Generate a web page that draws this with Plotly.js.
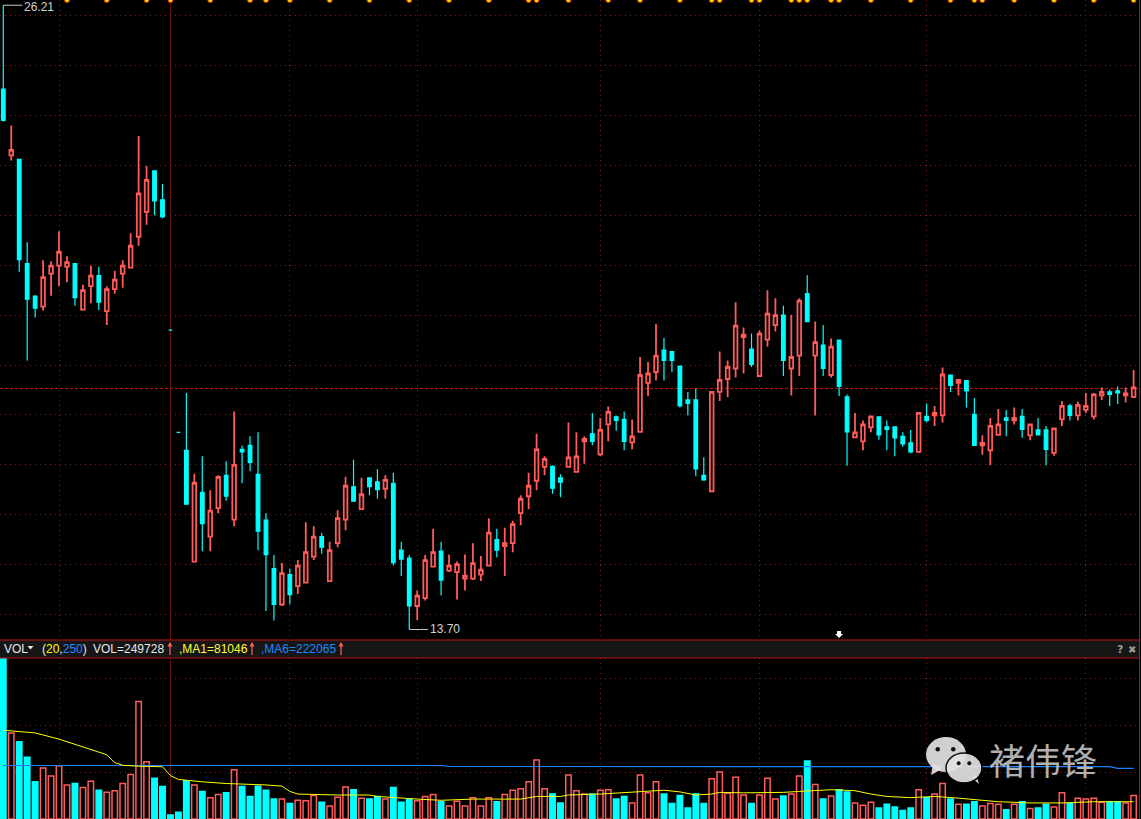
<!DOCTYPE html>
<html>
<head>
<meta charset="utf-8">
<script src="https://cdn.plot.ly/plotly-3.0.1.min.js"></script>
<style>html,body{margin:0;padding:0;background:#000;}#chart{width:1141px;height:819px;}</style>
</head>
<body>
<div id="chart"></div>
<script>
// ---------------- data ----------------
const openP = [24.53,23.20,23.12,21.03,20.38,20.17,20.83,20.99,20.97,21.03,20.11,20.58,20.79,20.08,20.52,20.83,20.95,21.57,22.07,22.89,
22.31,19.70,17.65,17.29,15.06,16.45,15.56,16.13,16.79,15.90,17.31,17.39,16.81,15.89,14.92,14.20,14.80,14.57,14.64,15.16,
15.56,14.67,15.43,15.90,16.56,16.11,16.74,16.66,16.52,16.63,15.29,15.13,14.17,14.33,14.96,15.27,14.88,14.85,14.72,14.72,
14.80,14.98,15.50,15.37,15.43,16.03,16.37,16.68,16.96,16.97,16.74,16.96,16.86,17.47,17.62,17.21,17.81,17.96,17.91,17.45,
17.66,18.64,18.86,19.30,19.27,18.98,18.30,18.30,16.79,16.47,18.46,18.72,18.93,19.56,19.32,18.78,19.51,19.80,20.00,18.93,
19.19,20.43,19.19,19.40,18.80,19.50,18.36,17.55,17.47,17.75,17.96,17.76,17.76,17.57,17.44,17.26,17.97,17.99,17.99,18.80,
18.64,18.69,18.01,17.39,17.29,17.60,17.94,17.89,17.97,17.59,17.70,17.70,17.24,17.91,18.18,17.99,18.10,17.97,18.39,18.46,
18.48,18.39,18.36];
const highP = [26.21,23.80,23.12,21.46,20.40,21.10,21.08,21.68,21.18,21.03,20.61,20.99,20.97,20.58,20.89,21.10,21.64,23.59,22.99,22.89,
22.63,19.70,17.65,18.44,16.82,17.17,16.49,16.79,17.07,18.07,17.38,17.57,17.65,16.03,15.19,15.03,14.92,15.09,15.85,15.77,
15.64,15.46,16.09,16.76,17.10,16.74,16.74,16.91,16.79,16.84,15.46,15.19,14.48,15.19,15.72,15.46,15.20,15.06,15.20,15.43,
15.17,15.93,15.72,15.74,15.88,16.39,16.84,17.62,17.17,16.99,16.81,17.85,17.65,17.57,18.04,17.94,18.17,17.99,18.07,17.91,
19.16,19.06,19.82,19.54,19.27,18.98,18.46,18.53,17.15,18.46,19.27,19.09,20.26,19.75,19.63,19.69,20.50,20.34,20.19,20.00,
20.34,20.80,19.87,19.80,19.53,19.50,18.41,18.04,17.89,17.97,17.96,17.89,17.76,17.65,17.70,18.04,18.23,18.18,18.95,18.80,
18.70,18.69,18.34,17.59,17.94,18.12,18.10,18.15,18.12,17.81,17.94,17.78,17.75,18.28,18.22,18.27,18.44,18.44,18.55,18.51,
18.57,18.55,18.90];
const lowP = [23.88,23.10,20.87,19.09,19.95,20.09,20.39,20.58,20.66,20.19,20.11,20.24,20.10,19.80,20.43,20.55,20.95,21.39,21.81,22.00,
21.94,19.70,17.65,16.21,15.06,15.27,15.27,16.03,16.28,15.77,16.63,16.87,15.29,14.07,13.88,14.17,14.20,14.41,14.64,15.09,
15.22,14.67,15.35,15.69,16.27,16.11,16.39,16.32,16.32,14.98,14.77,13.70,13.89,14.28,14.96,14.38,14.85,14.30,14.48,14.69,
14.67,14.98,15.14,14.77,15.25,15.79,16.11,16.49,16.79,16.42,16.35,16.96,16.86,17.02,17.39,17.17,17.47,17.68,17.29,17.31,
17.66,18.38,18.69,18.69,18.86,18.15,17.99,16.77,16.68,16.47,18.28,18.36,18.75,18.83,18.96,18.78,19.37,19.67,18.78,18.39,
18.78,19.87,17.99,18.78,18.75,18.38,16.98,17.55,17.29,17.65,17.50,17.29,17.17,17.36,17.23,17.26,17.85,17.78,17.85,18.46,
18.39,18.15,17.39,17.20,16.99,17.60,17.57,17.81,17.54,17.49,17.60,16.99,17.18,17.78,17.89,17.89,18.04,17.91,18.30,18.18,
18.22,18.25,18.34];
const closeP = [23.90,23.31,21.11,20.32,20.14,20.76,20.99,21.27,21.06,20.35,20.50,20.79,20.26,20.52,20.71,20.99,21.39,22.44,22.71,22.29,
21.97,19.70,17.65,16.21,16.64,15.82,16.08,16.76,16.37,17.00,17.26,17.05,15.67,15.20,14.20,14.83,14.40,14.98,15.25,15.56,
15.35,15.29,15.93,16.58,16.27,16.41,16.56,16.50,16.70,15.04,15.11,14.17,14.38,15.09,15.25,14.69,14.98,15.01,14.78,15.03,
14.90,15.64,15.29,15.43,15.81,16.32,16.58,17.31,17.12,16.53,16.65,17.15,17.17,17.52,17.47,17.70,18.06,17.89,17.47,17.57,
18.80,18.83,19.19,19.09,19.09,18.18,18.23,16.92,16.70,18.46,18.70,18.96,19.79,19.61,19.01,19.63,20.03,20.00,19.09,19.16,
20.29,19.87,19.46,18.93,19.37,18.57,17.66,17.65,17.81,17.97,17.60,17.71,17.54,17.42,17.26,18.04,17.89,18.04,18.81,18.59,
18.70,18.48,17.39,17.44,17.78,17.81,17.89,17.94,17.71,17.81,17.60,17.31,17.73,18.18,17.99,18.20,18.18,18.41,18.46,18.41,
18.44,18.43,18.55];
const volume = [760000,359000,322000,257000,155000,213000,179000,222000,142000,148000,131000,157000,120000,111000,118000,148000,185000,490000,239000,170000,
135000,17000,28000,159000,142000,115000,89000,102000,109000,205000,135000,94000,137000,120000,83000,83000,65000,78000,76000,98000,
70000,54000,91000,133000,122000,87000,83000,94000,83000,131000,70000,83000,76000,94000,102000,72000,54000,74000,54000,89000,
54000,89000,72000,102000,120000,126000,155000,246000,126000,104000,67000,183000,118000,104000,104000,120000,122000,83000,94000,67000,
183000,109000,155000,104000,65000,98000,46000,104000,65000,168000,196000,107000,174000,100000,65000,100000,170000,83000,96000,104000,
179000,242000,144000,83000,96000,122000,113000,67000,57000,70000,46000,61000,50000,35000,46000,122000,89000,104000,148000,83000,
61000,61000,72000,54000,65000,61000,39000,61000,72000,44000,46000,61000,50000,109000,65000,87000,83000,87000,70000,72000,
72000,67000,98000];
// 20-day volume average (yellow) read at selected bars
const ma20Idx = [0,4,7,10,13,14,15,17,20,21,22,25,28,33,35,36,37,42,46,47,49,52,55,59,65,66,67,70,71,75,79,81,83,85,87,89,90,93,98,100,104,107,109,111,114,117,120,125,129,133,137,142];
const ma20Val = [370000,359000,333000,300000,268000,235000,224000,220000,218000,181000,165000,155000,148000,142000,137000,115000,104000,100000,100000,94000,89000,83000,78000,83000,83000,89000,94000,94000,100000,104000,111000,115000,120000,113000,100000,104000,111000,109000,111000,115000,122000,118000,104000,94000,89000,94000,87000,72000,67000,67000,72000,72000];
// 250-day volume average (blue)
const ma250Idx = [0,55,56,139,140,142];
const ma250Val = [223000,223000,219000,218000,211000,211000];
// info markers along the top edge (bar indices)
const infoIdx = [8,13,18,21,26,31,33,36,41,46,51,56,61,66,67,71,76,80,85,89,90,94,95,99,100,101,104,105,109,114,119,122,123,127,132,137,142];
const monthGridIdx = [7,36,52,75,95,116,136];
const priceGrid = [14,15,16,17,18,19,20,21,22,23,24,25,26];
const volGrid = [192000,388000,584000];
const refPrice = 18.53;
const cursorIdx = 21;
const arrowIdx = 105;
const headerText = {vol:'VOL=249728', ma1:',MA1=81046', ma6:',MA6=222065', params:['20','250']};

// ---------------- build ----------------
const W = 1141, H = 819;
const idx = openP.map((_, i) => i);
const PX = px => px / W;
const PY = py => 1 - py / H;
const RED = '#ff5b5b', CYAN = '#00ffff';

const dir = idx.map(i => {
  if (closeP[i] > openP[i]) return 1;
  if (closeP[i] < openP[i]) return -1;
  return (i > 0 && closeP[i] < closeP[i - 1]) ? -1 : 1;
});

const priceTop = 26.315, priceBot = 13.489;

const traces = [
  {
    type: 'candlestick', x: idx, open: openP, high: highP, low: lowP, close: closeP,
    xaxis: 'x', yaxis: 'y', hoverinfo: 'skip', whiskerwidth: 0,
    increasing: {line: {color: RED, width: 1.8}, fillcolor: '#000000'},
    decreasing: {line: {color: CYAN, width: 1.2}, fillcolor: CYAN},
    showlegend: false
  },
  {
    type: 'scatter', mode: 'markers', x: infoIdx, y: infoIdx.map(() => priceTop),
    xaxis: 'x', yaxis: 'y', cliponaxis: true, hoverinfo: 'skip',
    marker: {size: 5, color: '#ffe600', line: {color: '#d82000', width: 1}}, showlegend: false
  },
  {
    type: 'bar', x: idx, y: volume, xaxis: 'x', yaxis: 'y2', width: 0.68, hoverinfo: 'skip',
    marker: {color: dir.map(d => d > 0 ? '#000000' : CYAN),
             line: {color: dir.map(d => d > 0 ? RED : CYAN), width: 1.5}},
    showlegend: false
  },
  {
    type: 'scatter', mode: 'lines', x: ma250Idx, y: ma250Val, xaxis: 'x', yaxis: 'y2',
    line: {color: '#1e7fff', width: 1.2}, hoverinfo: 'skip', showlegend: false
  },
  {
    type: 'scatter', mode: 'lines', x: ma20Idx, y: ma20Val, xaxis: 'x', yaxis: 'y2',
    line: {color: '#ffff00', width: 1}, hoverinfo: 'skip', showlegend: false
  }
];

// extremes labels
let iMax = 0, iMin = 0;
idx.forEach(i => { if (highP[i] > highP[iMax]) iMax = i; if (lowP[i] < lowP[iMin]) iMin = i; });

const gridStyle = {showgrid: true, gridcolor: '#8a1a1a', griddash: '1px,4px', gridwidth: 1,
  zeroline: false, showline: false, ticks: '', showticklabels: false, fixedrange: true};

const shapes = [
  // cursor line
  {type: 'line', xref: 'x', yref: 'paper', x0: cursorIdx, x1: cursorIdx, y0: 0, y1: 1,
   line: {color: '#6e0f0f', width: 1}, layer: 'below'},
  // reference dashed line
  {type: 'line', xref: 'paper', yref: 'y', x0: 0, x1: 1139 / W, y0: refPrice, y1: refPrice,
   line: {color: '#c81414', width: 1, dash: '3px,2px'}, layer: 'below'},
  // header band
  {type: 'rect', xref: 'paper', yref: 'paper', x0: 0, x1: 1139 / W, y0: PY(658), y1: PY(640),
   fillcolor: '#161616', line: {width: 0}, layer: 'above'},
  {type: 'line', xref: 'paper', yref: 'paper', x0: 0, x1: 1139.5 / W, y0: PY(640), y1: PY(640),
   line: {color: '#c01010', width: 1}},
  {type: 'line', xref: 'paper', yref: 'paper', x0: 0, x1: 1139.5 / W, y0: PY(658), y1: PY(658),
   line: {color: '#c01010', width: 1}},
  // right border
  {type: 'line', xref: 'paper', yref: 'paper', x0: 1139.5 / W, x1: 1139.5 / W, y0: 0, y1: 1,
   line: {color: '#c01010', width: 1}},
  // header dropdown triangle
  {type: 'path', xref: 'paper', yref: 'paper',
   path: `M${PX(27.5)},${PY(646)} L${PX(33.5)},${PY(646)} L${PX(30.5)},${PY(649.5)} Z`,
   fillcolor: '#e6e6e6', line: {width: 0}},
  // max / min leaders
  {type: 'line', xref: 'x', yref: 'y', x0: iMax, x1: iMax + 2.4, y0: highP[iMax], y1: highP[iMax],
   line: {color: '#c8c8c8', width: 1}},
  {type: 'line', xref: 'x', yref: 'y', x0: iMin, x1: iMin + 2.35, y0: lowP[iMin], y1: lowP[iMin],
   line: {color: '#c8c8c8', width: 1}},
  // white arrow marker
  {type: 'path', xref: 'x', yref: 'y', xsizemode: 'pixel', ysizemode: 'pixel',
   xanchor: arrowIdx, yanchor: priceBot,
   path: 'M-2,9 L2,9 L2,6 L4,6 L0,2 L-4,6 L-2,6 Z', fillcolor: '#ffffff', line: {width: 0}}
];

// header arrows (thin red up arrows)
const hdrArrowX = [170, 252, 341];
hdrArrowX.forEach(x => {
  shapes.push({type: 'line', xref: 'paper', yref: 'paper', x0: PX(x), x1: PX(x), y0: PY(655), y1: PY(643),
    line: {color: '#ff6060', width: 1.2}});
  shapes.push({type: 'path', xref: 'paper', yref: 'paper',
    path: `M${PX(x - 2.5)},${PY(646.5)} L${PX(x)},${PY(642)} L${PX(x + 2.5)},${PY(646.5)} Z`,
    fillcolor: '#ff6060', line: {width: 0}});
});

// watermark bubbles
const circ = (x0, y0, x1, y1, fill, lc, lw) => ({type: 'circle', xref: 'paper', yref: 'paper',
  x0: PX(x0), x1: PX(x1), y0: PY(y1), y1: PY(y0), fillcolor: fill, line: {color: lc || fill, width: lw || 0}, opacity: 0.92});
const tri = (pts, fill) => ({type: 'path', xref: 'paper', yref: 'paper', opacity: 0.92,
  path: 'M' + pts.map(p => PX(p[0]) + ',' + PY(p[1])).join(' L') + ' Z', fillcolor: fill, line: {width: 0}});
shapes.push(
  tri([[933, 764], [931, 775], [942, 769]], '#e2e2e2'),
  circ(926, 737, 966, 772, '#e2e2e2'),
  circ(935.5, 747, 940, 751.5, '#000000'),
  circ(951, 747, 955.5, 751.5, '#000000'),
  tri([[972, 778], [979, 784], [976, 774]], '#e2e2e2'),
  circ(946, 753, 982, 783, '#e2e2e2', '#000000', 1.5),
  circ(956.7, 761.3, 960.7, 765.3, '#000000'),
  circ(967.3, 761.3, 971.3, 765.3, '#000000')
);

const hdrY = PY(649);
const FONT = 'Liberation Sans, Arial, sans-serif';
const ann = (x, text, color, extra) => Object.assign({xref: 'paper', yref: 'paper', x: PX(x), y: hdrY,
  xanchor: 'left', yanchor: 'middle', showarrow: false, text: text, borderpad: 0,
  font: {family: FONT, size: 12, color: color}}, extra || {});

const annotations = [
  ann(3, 'VOL', '#e6e6e6'),
  ann(40.5, `<span style="color:#f2f0c8">(</span><span style="color:#ffff00">${headerText.params[0]}</span><span style="color:#e6e6e6">,</span><span style="color:#2a86ff">${headerText.params[1]}</span><span style="color:#e6e6e6">)</span>`, '#e6e6e6'),
  ann(91.5, headerText.vol, '#e6e6e6'),
  ann(178, headerText.ma1, '#ffff33'),
  ann(260, headerText.ma6, '#1a8cff'),
  ann(1119.5, '<b>?</b>', '#9a9a9a', {xanchor: 'center', font: {family: 'DejaVu Sans', size: 11, color: '#9a9a9a'}}),
  ann(1132, '✖', '#9a9a9a', {xanchor: 'center', font: {family: 'DejaVu Sans', size: 10, color: '#9a9a9a'}}),
  {xref: 'x', yref: 'paper', x: iMax + 2.45, y: 1, xanchor: 'left', yanchor: 'top', showarrow: false, borderpad: 0,
   yshift: 1, text: highP[iMax].toFixed(2), font: {family: FONT, size: 12, color: '#d2d2d2'}},
  {xref: 'x', yref: 'y', x: iMin + 2.45, y: lowP[iMin], xanchor: 'left', yanchor: 'middle', showarrow: false, borderpad: 0,
   text: lowP[iMin].toFixed(2), font: {family: FONT, size: 12, color: '#d2d2d2'}},
  {xref: 'paper', yref: 'paper', x: PX(987), y: PY(759), xanchor: 'left', yanchor: 'middle', showarrow: false,
   text: '褚伟锋', opacity: 0.9, font: {family: 'Noto Sans CJK SC', size: 36, color: '#c4c4c4'}}
];

const layout = {
  width: W, height: H, margin: {l: 0, r: 0, t: 0, b: 0, pad: 0},
  paper_bgcolor: '#000000', plot_bgcolor: 'rgba(0,0,0,0)',
  showlegend: false, boxgap: 0.35, dragmode: false, hovermode: false,
  xaxis: Object.assign({}, gridStyle, {domain: [0, 1139 / W], range: [-0.415, 142.68],
    tickmode: 'array', tickvals: monthGridIdx, rangeslider: {visible: false}, anchor: 'y'}),
  yaxis: Object.assign({}, gridStyle, {domain: [PY(640), 1], range: [priceBot, priceTop],
    tickmode: 'array', tickvals: priceGrid, anchor: 'x'}),
  yaxis2: Object.assign({}, gridStyle, {domain: [0, PY(658)], range: [0, 671200],
    tickmode: 'array', tickvals: volGrid, anchor: 'x'}),
  shapes: shapes,
  annotations: annotations
};

Plotly.newPlot('chart', traces, layout, {staticPlot: true, displayModeBar: false});
</script>
</body>
</html>
